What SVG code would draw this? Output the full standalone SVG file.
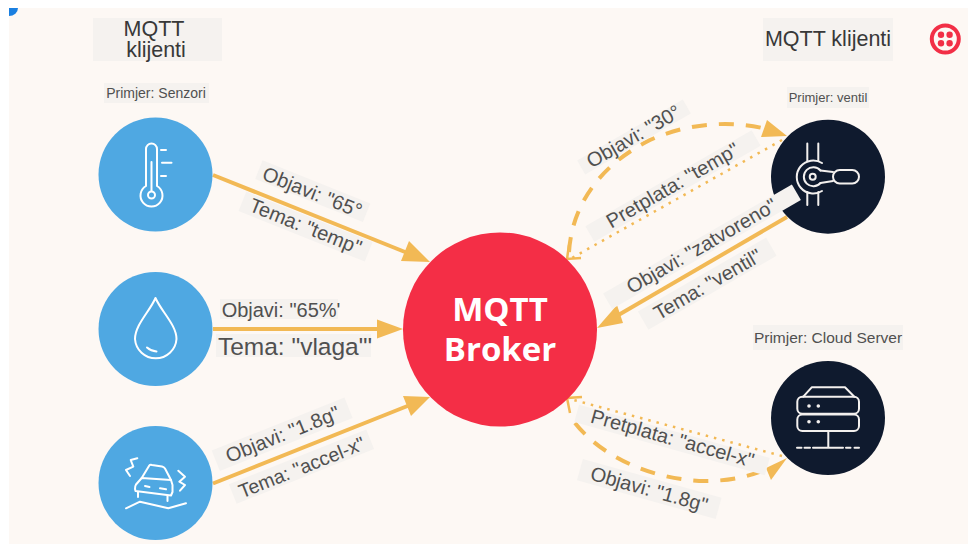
<svg xmlns="http://www.w3.org/2000/svg" width="968" height="544" viewBox="0 0 968 544">
<style>
text{font-family:"Liberation Sans",Arial,sans-serif;fill:#505050;text-anchor:middle}
.bg{fill:#f5f2ef}
.blue{fill:#4fa8e2}
.dark{fill:#0f1a2e}
.ic{fill:none;stroke:#fff;stroke-width:2;stroke-linecap:round;stroke-linejoin:round}
.dk{stroke:#f3f0ee}
.solid{fill:none;stroke:#f2b955;stroke-width:4}
.dash{fill:none;stroke:#f2b955;stroke-width:4;stroke-dasharray:15 12}
.dot{fill:none;stroke:#f2b955;stroke-width:2.500;stroke-dasharray:2.500 6}
.head{fill:#f2b955}
.open{fill:none;stroke:#f2b955;stroke-width:2.500}
.lb{font-size:20px}
.tt{font-size:21.500px;fill:#383838}
</style>
<rect width="968" height="544" fill="#fff"/>
<rect x="9" y="8" width="959" height="536" fill="#fdf8f4"/>
<path d="M9,8H18A9,8 0 0 1 9,16Z" fill="#1a7fe0"/>

<g id="connectors">
<path class="solid" d="M213,175L410,254"/>
<path class="head" d="M430,262L401,261L409,241Z"/>
<path class="solid" d="M213,329H380"/>
<path class="head" d="M403,329L377,319.500V338.500Z"/>
<path class="solid" d="M213,483.500L410,405"/>
<path class="head" d="M430,397L411,416L403,396Z"/>
<path class="solid" d="M787,217L615,317"/>
<path class="head" d="M597,328L617,305L623,323Z"/>
<path class="dash" d="M569,252C572,205 600,165 650,140C690,122 735,120 770,130"/>
<path class="head" d="M787,136L761,137L767,120Z"/>
<path class="dot" d="M782,140L570,259"/>
<path class="open" d="M569,245L567,259L581,258"/>
<path class="dash" d="M575,423C600,455 650,480 705,481C725,481 745,478 765,470"/>
<path class="head" d="M787,458L771,480L766,468Z"/>
<path class="dot" d="M782,456L570,399"/>
<path class="open" d="M570,413L567,398L582,397"/>
</g>

<g id="node-title-left">
<rect class="bg" x="93" y="18" width="129" height="43"/>
<text class="tt"><tspan x="154" y="36">MQTT</tspan><tspan x="156" y="57">klijenti</tspan></text>
</g>
<g id="node-title-right">
<rect class="bg" x="763" y="18" width="130" height="43"/>
<text class="tt" x="828" y="46">MQTT klijenti</text>
</g>
<g id="node-twilio" fill="#f22f46">
<circle cx="945.300" cy="39" r="13.500" fill="none" stroke="#f22f46" stroke-width="4"/>
<circle cx="941" cy="34.700" r="3.200"/><circle cx="949.600" cy="34.700" r="3.200"/>
<circle cx="941" cy="43.300" r="3.200"/><circle cx="949.600" cy="43.300" r="3.200"/>
</g>

<g id="node-senzori">
<rect class="bg" x="104" y="83" width="105" height="20"/>
<text x="156" y="98" font-size="14">Primjer: Senzori</text>
<circle class="blue" cx="155.500" cy="174.500" r="57"/>
<path class="ic" d="M146,186V149a5.500,5.500 0 0 1 11,0V186A11,11 0 1 1 146,186Z"/>
<circle class="ic" cx="151.500" cy="195" r="3.500"/>
<path class="ic" d="M151.500,162V191M161,150H166M162,162.700H171.500M161,176H166"/>
</g>
<g id="node-vlaga">
<circle class="blue" cx="155.500" cy="329" r="57"/>
<path class="ic" d="M155.500,298C150,311 135,325 135,339A20.800,20.800 0 0 0 176.500,339C176.500,325 161,311 155.500,298Z"/>
<path class="ic" d="M147,347.500Q151,351 156.500,351.500"/>
</g>
<g id="node-accel">
<circle class="blue" cx="155.500" cy="483" r="57"/>
<path class="ic" d="M141.700,478L149.300,465.500Q150,464.500 152,465L162,466.500Q164,467 165,468.500L171,480"/>
<path class="ic" d="M141.700,478L136,484.500Q135,486 135,489L135.500,491L171,495.500L172.500,492V485L171,480L141.700,478"/>
<path class="ic" d="M138,492V497M167.500,496V501M145,486L149.500,487M160,488.300L166,489.300"/>
<path class="ic" d="M126,508.300L140,501.700L168.300,508.300L186,503.300"/>
<path class="ic" d="M137.300,458.300L130.700,460L133.300,466.700L126,470L130,476M178.300,470.700L185,476.700L179.300,481.700L185,485L180,490.700"/>
</g>
<g id="node-broker">
<circle cx="500" cy="329.500" r="97" fill="#f42e46"/>
<text font-size="33" font-weight="700" style="font-family:'Open Sans','Noto Sans',sans-serif;fill:#fff"><tspan x="500" y="321">MQTT</tspan><tspan x="500" y="361">Broker</tspan></text>
</g>
<g id="node-ventil">
<rect class="bg" x="787" y="87" width="82" height="21"/>
<text x="828" y="101.500" font-size="13">Primjer: ventil</text>
<circle class="dark" cx="828" cy="176.700" r="57"/>
<g class="ic dk">
<path d="M807.300,143.500V161M818.300,143.500V161M807.300,192V205M818.300,192V205"/>
<path d="M822,163A16.500,16.500 0 1 0 822,191"/>
<path d="M820.500,170.500A9.500,9.500 0 1 0 820.500,183"/>
<circle cx="812.700" cy="176.700" r="3"/>
<path d="M820.500,170.500L833,172M820.500,183L833,181"/>
<rect x="833" y="170" width="26" height="13.500" rx="6.700"/>
</g>
</g>
<g id="node-cloud">
<rect class="bg" x="753" y="325" width="150" height="25"/>
<text x="828" y="343" font-size="15.500">Primjer: Cloud Server</text>
<circle class="dark" cx="828" cy="418" r="57"/>
<g class="ic dk">
<path d="M803.300,396.700L811.700,387.300H845L854.300,396.700"/>
<rect x="797.300" y="396.700" width="61.700" height="17" rx="5"/>
<rect x="797.300" y="414.500" width="61.700" height="16.500" rx="5"/>
<path d="M828.300,431V447.700M797,447.700H801.500M804.500,447.700H810M813,447.700H843M846,447.700H850.500M854.500,447.700H859"/>
</g>
<g fill="#f3f0ee"><circle cx="809" cy="406" r="1.800"/><circle cx="818.300" cy="406" r="1.800"/><circle cx="809" cy="421.700" r="1.800"/><circle cx="818.300" cy="421.700" r="1.800"/></g>
</g>

<g id="labels">
<g transform="translate(312,193) rotate(21.800)"><rect class="bg" x="-58" y="-12" width="116" height="20"/><text class="lb" y="6">Objavi: "65°</text></g>
<g transform="translate(305,228) rotate(21.800)"><rect class="bg" x="-68" y="-12" width="136" height="21"/><text class="lb" y="5">Tema: "temp"</text></g>
<g transform="translate(281,311)"><rect class="bg" x="-61" y="-12" width="118" height="20"/><text class="lb" y="6" x="0">Objavi: "65%'</text></g>
<g transform="translate(295,347)"><rect class="bg" x="-79" y="-13" width="155" height="23"/><text y="8" font-size="24.500" x="0">Tema: "vlaga"'</text></g>
<g transform="translate(283,435) rotate(-21.800)"><rect class="bg" x="-72" y="-12" width="143" height="22"/><text class="lb" y="6">Objavi: "1.8g"</text></g>
<g transform="translate(302,468) rotate(-21.800)"><rect class="bg" x="-74" y="-12" width="148" height="21"/><text y="6" font-size="19.500">Tema: "accel-x"</text></g>
<g transform="translate(634,137) rotate(-30)"><rect class="bg" x="-61" y="-8" width="122" height="16"/><text class="lb" y="6">Objavi: "30°</text></g>
<g transform="translate(673,186) rotate(-30)"><rect class="bg" x="-96" y="-9" width="192" height="18"/><text class="lb" y="6">Pretplata: "temp"</text></g>
<g transform="translate(702,246.700) rotate(-30)"><rect class="bg" x="-109" y="-9" width="218" height="18"/><text class="lb" y="6">Objavi: "zatvoreno"</text></g>
<g transform="translate(708,285) rotate(-30)"><rect class="bg" x="-74" y="-12" width="148" height="21"/><text class="lb" y="6">Tema: "ventil"</text></g>
<g transform="translate(672,440) rotate(15.600)"><rect class="bg" x="-99" y="-9" width="198" height="18"/><text class="lb" y="5">Pretplata: "accel-x"</text></g>
<g transform="translate(649,490) rotate(15.600)"><rect class="bg" x="-72" y="-12" width="144" height="22"/><text class="lb" y="6">Objavi: "1.8g"</text></g>
</g>
</svg>
